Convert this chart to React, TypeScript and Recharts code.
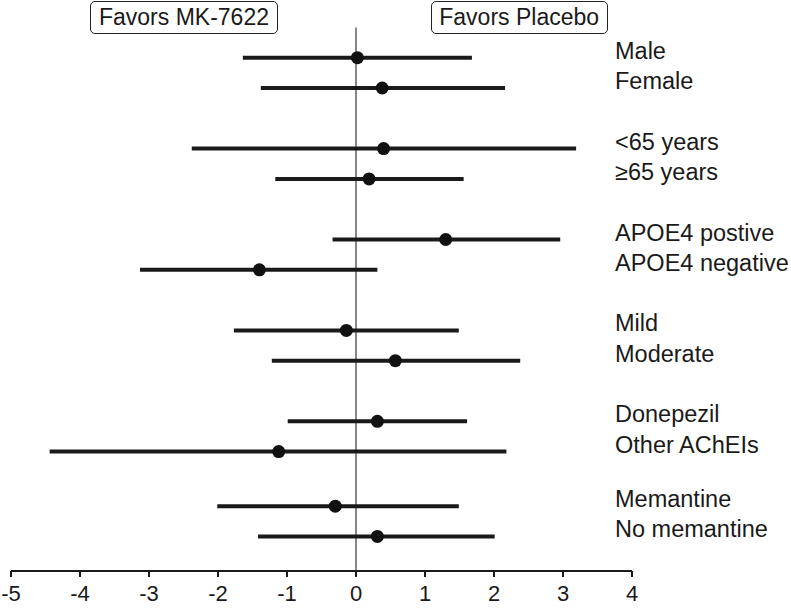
import React from "react";
import { ScatterChart, Scatter, XAxis, YAxis, ErrorBar, ReferenceLine } from "recharts";

const labels = [
  "Male",
  "Female",
  "<65 years",
  "≥65 years",
  "APOE4 postive",
  "APOE4 negative",
  "Mild",
  "Moderate",
  "Donepezil",
  "Other AChEIs",
  "Memantine",
  "No memantine",
];
const rowPos = [1, 2, 4, 5, 7, 8, 10, 11, 13, 14, 15.8, 16.8];
const estimates = [0.02, 0.38, 0.4, 0.19, 1.3, -1.4, -0.14, 0.57, 0.31, -1.12, -0.3, 0.31];
const lower = [-1.64, -1.38, -2.38, -1.17, -0.34, -3.13, -1.77, -1.22, -0.99, -4.44, -2.01, -1.42];
const upper = [1.68, 2.16, 3.19, 1.56, 2.96, 0.31, 1.49, 2.38, 1.61, 2.18, 1.49, 2.01];
const xTicks = [-5, -4, -3, -2, -1, 0, 1, 2, 3, 4];

const FONT = "'Liberation Sans', Arial, sans-serif";
const INK = "#1a1a1a";

const data = labels.map((name, i) => ({
  name,
  pos: rowPos[i],
  est: estimates[i],
  err: [estimates[i] - lower[i], upper[i] - estimates[i]],
}));

const labelByPos: Record<string, string> = {};
rowPos.forEach((p, i) => {
  labelByPos[String(p)] = labels[i];
});

const RowLabel = (props: any) => {
  const { x, y, payload } = props;
  return (
    <text x={x - 17} y={y + 1} fontSize={23.5} fontFamily={FONT} fill={INK} textAnchor="start">
      {labelByPos[String(payload.value)]}
    </text>
  );
};

// x tick: baseline sits ~15px under the tick end
const XTick = (props: any) => {
  const { x, y, payload } = props;
  return (
    <text x={x} y={y + 14} fontSize={22} fontFamily={FONT} fill={INK} textAnchor="middle">
      {String(payload.value)}
    </text>
  );
};

const Dot = (props: any) => <circle cx={props.cx} cy={props.cy} r={6.5} fill="#111" />;

const boxStyle: React.CSSProperties = {
  position: "absolute",
  top: 1,
  height: 31,
  border: "1.5px solid #222",
  borderRadius: 5,
  fontFamily: FONT,
  fontSize: 23,
  color: INK,
  display: "flex",
  alignItems: "center",
  justifyContent: "center",
  background: "#fff",
  boxSizing: "content-box",
};

export default function App() {
  return (
    <div style={{ position: "absolute", left: 0, top: 0, width: 791, height: 608, background: "#fff" }}>
      <ScatterChart width={791} height={608} margin={{ top: 27.4, right: 0, bottom: 7, left: 11 }}>
        <XAxis
          type="number"
          dataKey="est"
          domain={[-5, 4]}
          ticks={xTicks}
          interval={0}
          allowDataOverflow
          height={30}
          tickSize={6}
          tickMargin={10}
          axisLine={{ stroke: INK, strokeWidth: 2 }}
          tickLine={{ stroke: INK, strokeWidth: 2 }}
          tick={<XTick />}
        />
        <YAxis
          type="number"
          dataKey="pos"
          orientation="right"
          reversed
          domain={[0, 17.94]}
          ticks={rowPos}
          interval={0}
          width={159}
          axisLine={false}
          tickLine={false}
          tickSize={0}
          tickMargin={0}
          tick={<RowLabel />}
        />
        <ReferenceLine x={0} stroke="#888" strokeWidth={2} />
        <Scatter data={data} shape={<Dot />} isAnimationActive={false}>
          <ErrorBar dataKey="err" direction="x" width={0} stroke={INK} strokeWidth={4} isAnimationActive={false} />
        </Scatter>
      </ScatterChart>
      <div style={{ ...boxStyle, left: 90, width: 186 }}>Favors MK-7622</div>
      <div style={{ ...boxStyle, left: 430.7, width: 175 }}>Favors Placebo</div>
    </div>
  );
}
